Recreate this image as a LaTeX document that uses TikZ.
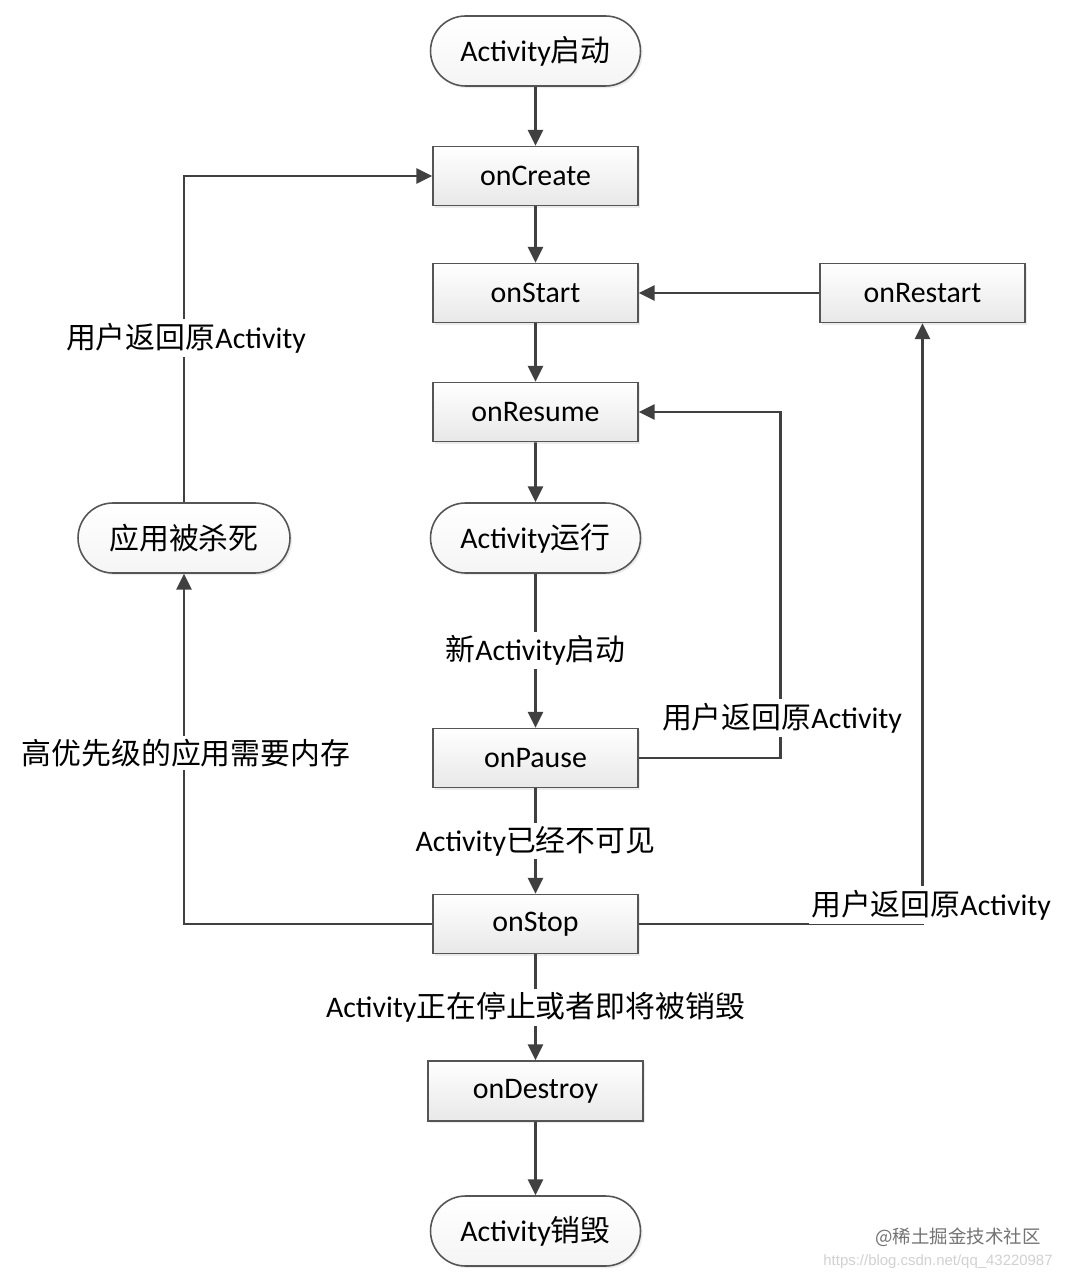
\documentclass[tikz,border=0pt]{standalone}
\usepackage{fontspec}
\setmainfont{Carlito}
\newfontfamily\cjk{Noto Sans CJK SC}
\newfontfamily\wmfont{Liberation Sans}
\usetikzlibrary{arrows.meta,shapes.misc,shadows}
\definecolor{linec}{HTML}{404040}
\definecolor{boxc}{HTML}{555555}
\begin{document}
\begin{tikzpicture}[x=0.02cm,y=-0.02cm,
  font=\fontsize{17}{20}\selectfont,
  line/.style={draw=linec, line width=1.5pt},
  arr/.style={line, -{Triangle[length=9pt,width=8.5pt]}},
  box/.style={draw=boxc, line width=0.9pt, top color=white, bottom color=black!9,
    minimum width=4.1cm, minimum height=1.18cm, inner sep=0pt,
    drop shadow={opacity=0.15,shadow xshift=1.2pt,shadow yshift=-1.2pt}},
  term/.style={box, rounded rectangle, top color=white, bottom color=black!4,
    minimum width=4.2cm, minimum height=1.4cm},
  lbl/.style={fill=white, inner xsep=1pt, inner ysep=2pt}
]
\fill[white] (0,0) rectangle (1070,1280);
\useasboundingbox (0,0) rectangle (1070,1280);

\node[term] (start) at (535.5,51) {Activity{\cjk 启动}};
\node[box] (create) at (535.5,176) {onCreate};
\node[box] (onstart) at (535.5,293) {onStart};
\node[box] (restart) at (922.5,293) {onRestart};
\node[box] (resume) at (535.5,412) {onResume};
\node[term] (run) at (535.5,538) {Activity{\cjk 运行}};
\node[term, minimum width=4.24cm] (kill) at (184,538) {{\cjk 应用被杀死}};
\node[box] (pause) at (535.5,758) {onPause};
\node[box] (stop) at (535.5,924) {onStop};
\node[box, minimum width=4.3cm, minimum height=1.2cm] (destroy) at (535.5,1091) {onDestroy};
\node[term] (end) at (535.5,1231) {Activity{\cjk 销毁}};

\draw[arr] (start) -- (create);
\draw[arr] (create) -- (onstart);
\draw[arr] (onstart) -- (resume);
\draw[arr] (resume) -- (run);
\draw[arr] (run) -- node[lbl] (l1) {{\cjk 新}Activity{\cjk 启动}} (pause);
\draw[arr] (pause) -- node[lbl] (l2) {Activity{\cjk 已经不可见}} (stop);
\draw[arr] (stop) -- node[lbl] (l3) {Activity{\cjk 正在停止或者即将被销毁}} (destroy);
\draw[arr] (destroy) -- (end);
\draw[arr] (pause.east) -- ++(142,0) |- (resume.east);
\draw[arr] (stop.west) -| (kill.south);
\draw[arr] (kill.north) |- (create.west);
\draw[arr] (stop.east) -| (restart.south);
\draw[arr] (restart) -- (onstart);

\node[lbl] (l4) at (782,718) {{\cjk 用户返回原}Activity};
\node[lbl] (l5) at (186,753) {{\cjk 高优先级的应用需要内存}};
\node[lbl] (l6) at (186,338) {{\cjk 用户返回原}Activity};
\node[lbl] (l7) at (931,905) {{\cjk 用户返回原}Activity};

\node[text=black!55, font=\fontsize{10.5}{12}\selectfont\cjk] (wm1) at (958,1237) {@稀土掘金技术社区};
\node[text=black!18, font=\fontsize{8.5}{10}\selectfont\wmfont] (wm2) at (938,1262) {https://blog.csdn.net/qq\_43220987};
\end{tikzpicture}
\end{document}
